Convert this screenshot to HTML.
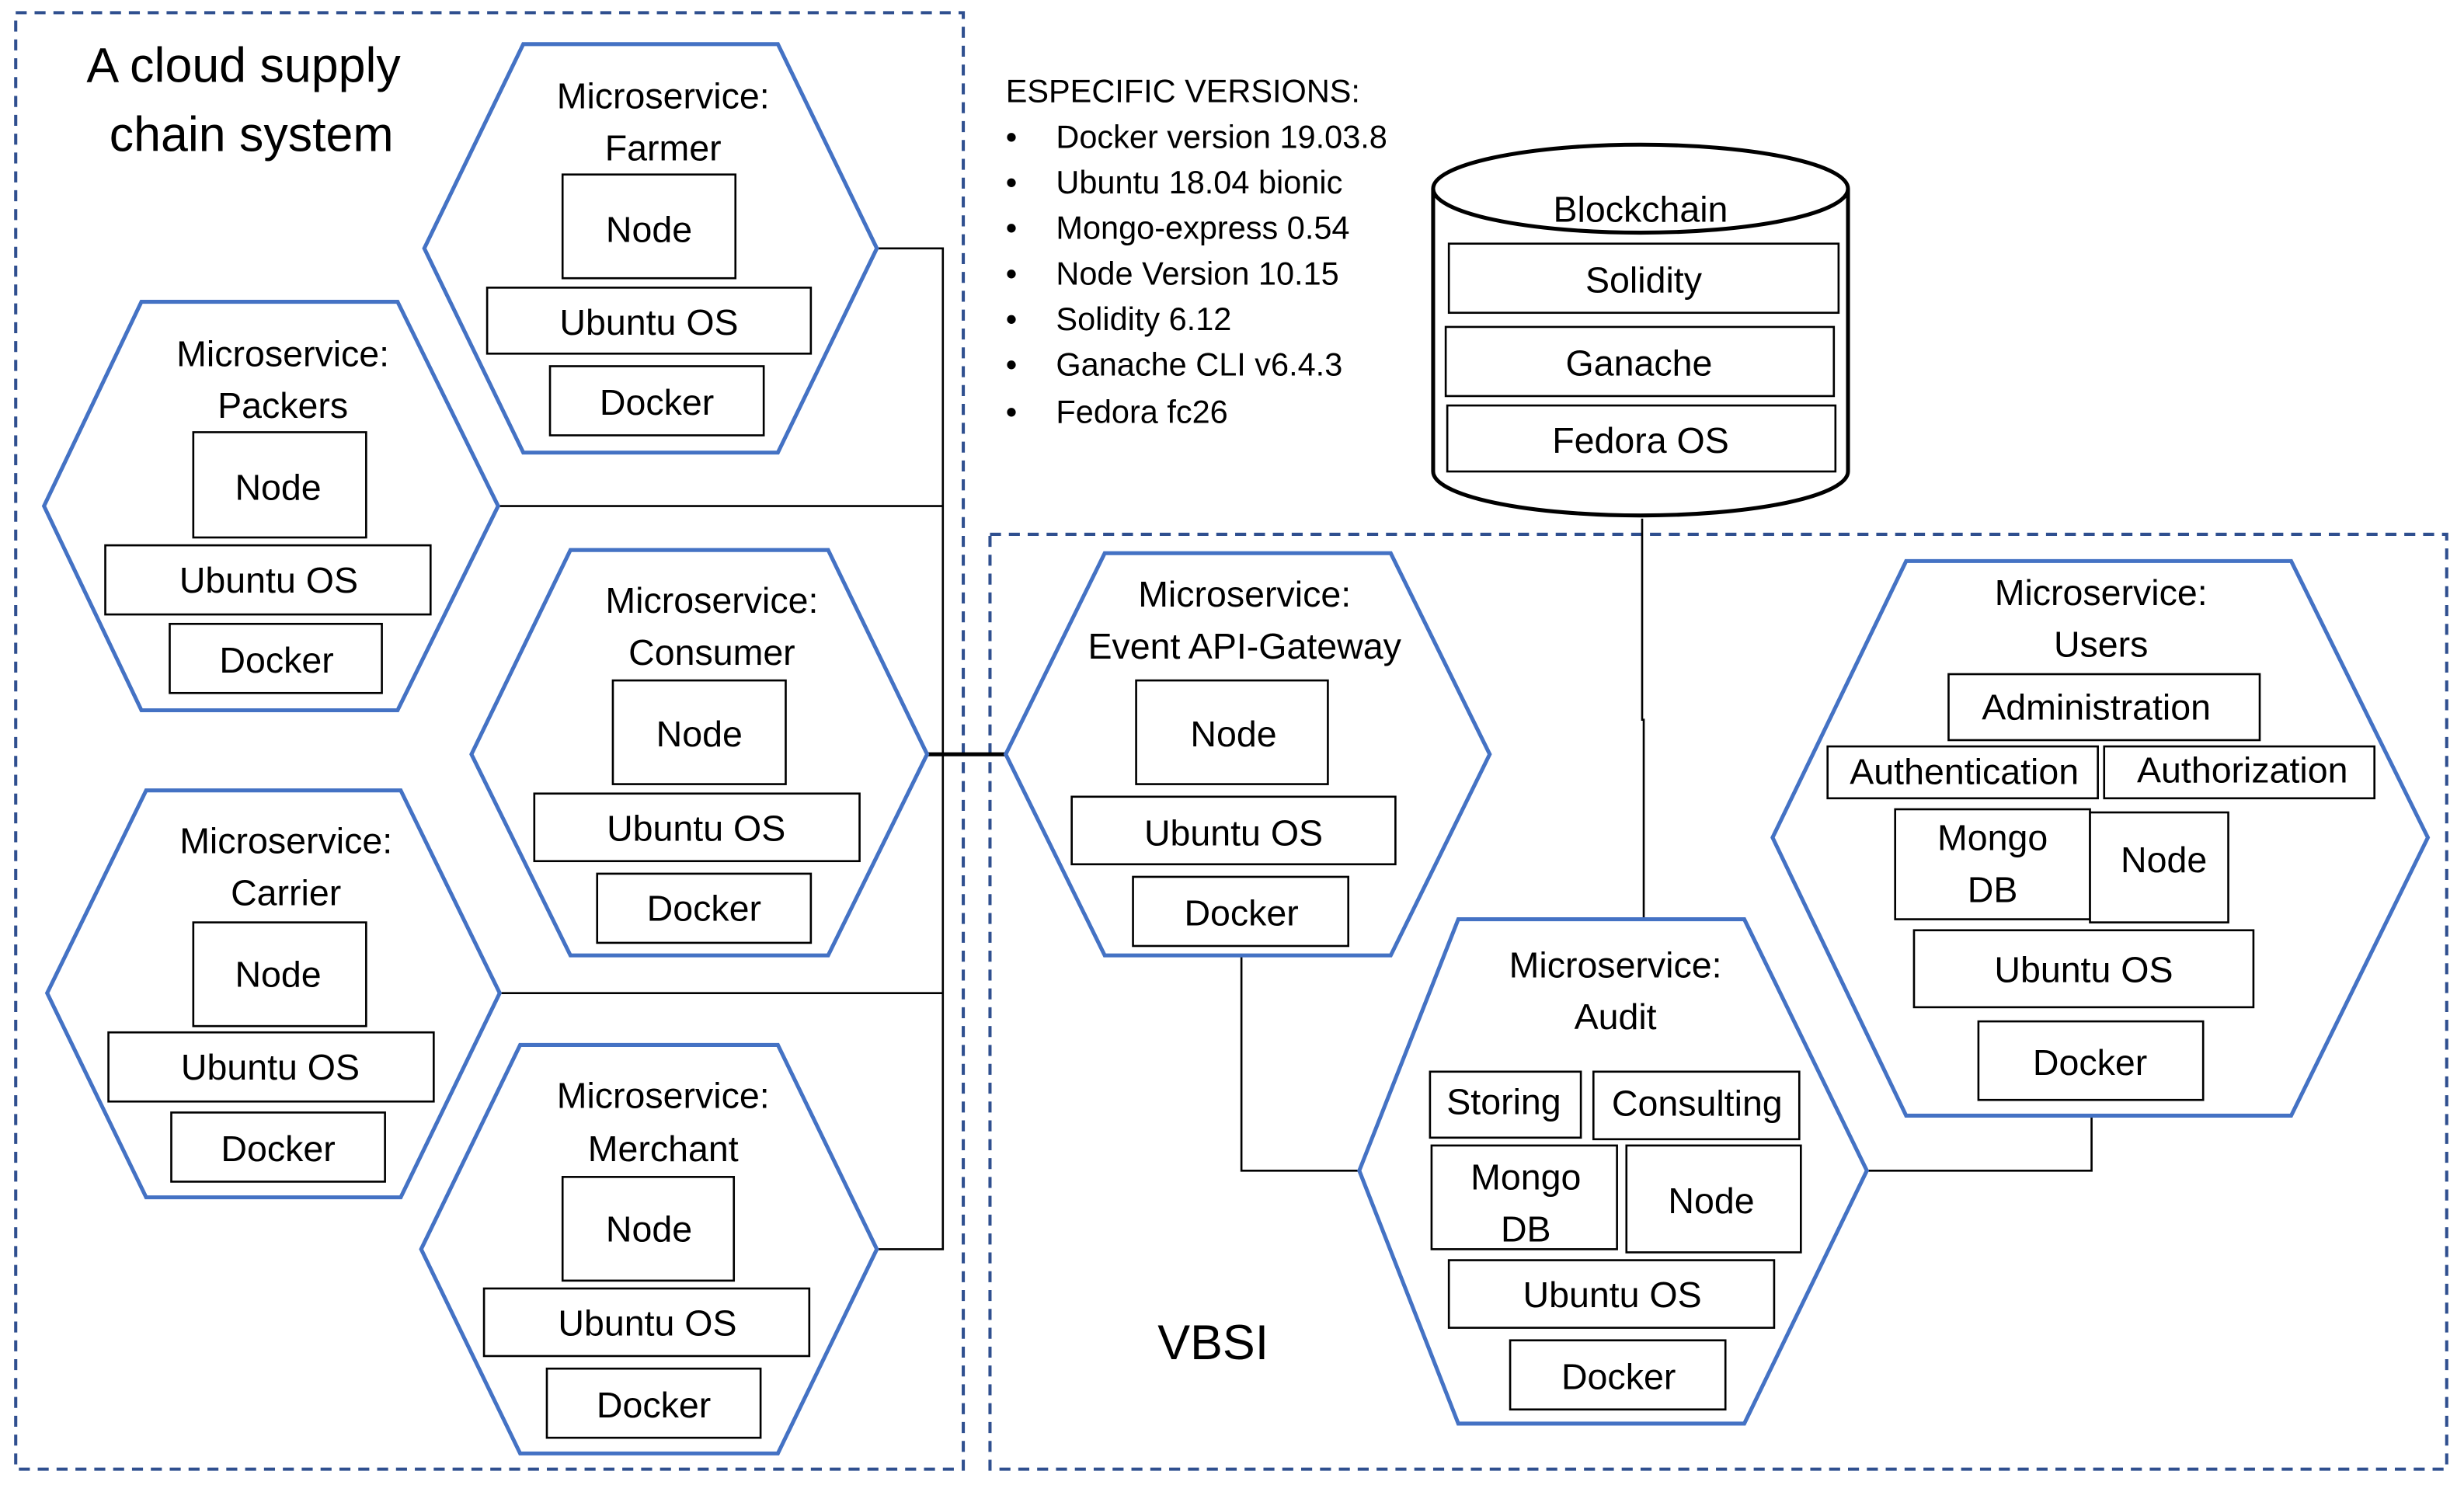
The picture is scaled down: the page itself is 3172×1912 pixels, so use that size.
<!DOCTYPE html>
<html><head><meta charset="utf-8"><style>
html,body{margin:0;padding:0;background:#fff;}
svg{display:block;}
text{font-family:"Liberation Sans",sans-serif;fill:#000;}
</style></head><body>
<svg width="3172" height="1912" viewBox="0 0 1568 945" xmlns="http://www.w3.org/2000/svg">
<g fill="none" stroke="#2f4f8f" stroke-width="2" stroke-dasharray="7,5">
<rect x="10" y="8" width="603" height="927"/>
<rect x="630" y="340" width="927" height="595"/>
</g>
<g fill="none" stroke="#000" stroke-width="1.3">
<polyline points="558,158 600,158 600,795 558,795"/>
<line x1="317" y1="322" x2="600" y2="322"/>
<line x1="318" y1="632" x2="600" y2="632"/>
<line x1="590" y1="480" x2="640" y2="480" stroke-width="2.5"/>
<polyline points="1045,330 1045,458 1046,458 1046,585"/>
<polyline points="790,602 790,745 865,745"/>
<polyline points="1188,745 1331,745 1331,700"/>
</g>
<g fill="#fff" stroke="#4472c4" stroke-width="2.5">
<polygon points="270,158 333,28 495,28 558,158 495,288 333,288"/>
<polygon points="28,322 90,192 253,192 317,322 253,452 90,452"/>
<polygon points="300,480 363,350 527,350 590,480 527,608 363,608"/>
<polygon points="30,632 93,503 255,503 318,632 255,762 93,762"/>
<polygon points="268,795 331,665 495,665 558,795 495,925 331,925"/>
<polygon points="640,480 703,352 885,352 948,480 885,608 703,608"/>
<polygon points="865,745 928,585 1110,585 1188,745 1110,906 928,906"/>
<polygon points="1128,533 1213,357 1458,357 1545,533 1458,710 1213,710"/>
</g>
<g fill="#fff" stroke="#000" stroke-width="2.5">
<path d="M912,120 L912,300 A132,28 0 0 0 1176,300 L1176,120"/>
<ellipse cx="1044" cy="120" rx="132" ry="28"/>
</g>
<g fill="#fff" stroke="#000" stroke-width="1.3">
<rect x="922" y="155" width="248" height="44"/>
<rect x="920" y="208" width="247" height="44"/>
<rect x="921" y="258" width="247" height="42"/>
<rect x="358" y="111" width="110" height="66"/><rect x="310" y="183" width="206" height="42"/><rect x="350" y="233" width="136" height="44"/>
<rect x="123" y="275" width="110" height="67"/><rect x="67" y="347" width="207" height="44"/><rect x="108" y="397" width="135" height="44"/>
<rect x="390" y="433" width="110" height="66"/><rect x="340" y="505" width="207" height="43"/><rect x="380" y="556" width="136" height="44"/>
<rect x="123" y="587" width="110" height="66"/><rect x="69" y="657" width="207" height="44"/><rect x="109" y="708" width="136" height="44"/>
<rect x="358" y="749" width="109" height="66"/><rect x="308" y="820" width="207" height="43"/><rect x="348" y="871" width="136" height="44"/>
<rect x="723" y="433" width="122" height="66"/><rect x="682" y="507" width="206" height="43"/><rect x="721" y="558" width="137" height="44"/>
<rect x="910" y="682" width="96" height="42"/><rect x="1014" y="682" width="131" height="43"/><rect x="911" y="729" width="118" height="66"/><rect x="1035" y="729" width="111" height="68"/><rect x="922" y="802" width="207" height="43"/><rect x="961" y="853" width="137" height="44"/>
<rect x="1240" y="429" width="198" height="42"/><rect x="1163" y="475" width="172" height="33"/><rect x="1339" y="475" width="172" height="33"/><rect x="1206" y="515" width="124" height="70"/><rect x="1330" y="517" width="88" height="70"/><rect x="1218" y="592" width="216" height="49"/><rect x="1259" y="650" width="143" height="50"/>
</g>
<g font-size="23" text-anchor="middle">
<text x="1044" y="141">Blockchain</text>
<text x="1046" y="186">Solidity</text><text x="1043" y="239">Ganache</text><text x="1044" y="288">Fedora OS</text>
<text x="422" y="69">Microservice:</text><text x="422" y="102">Farmer</text>
<text x="413" y="154">Node</text><text x="413" y="213">Ubuntu OS</text><text x="418" y="264">Docker</text>
<text x="180" y="233">Microservice:</text><text x="180" y="266">Packers</text>
<text x="177" y="318">Node</text><text x="171" y="377">Ubuntu OS</text><text x="176" y="428">Docker</text>
<text x="453" y="390">Microservice:</text><text x="453" y="423">Consumer</text>
<text x="445" y="475">Node</text><text x="443" y="535">Ubuntu OS</text><text x="448" y="586">Docker</text>
<text x="182" y="543">Microservice:</text><text x="182" y="576">Carrier</text>
<text x="177" y="628">Node</text><text x="172" y="687">Ubuntu OS</text><text x="177" y="739">Docker</text>
<text x="422" y="705">Microservice:</text><text x="422" y="739">Merchant</text>
<text x="413" y="790">Node</text><text x="412" y="850">Ubuntu OS</text><text x="416" y="902">Docker</text>
<text x="792" y="386">Microservice:</text><text x="792" y="419">Event API-Gateway</text>
<text x="785" y="475">Node</text><text x="785" y="538">Ubuntu OS</text><text x="790" y="589">Docker</text>
<text x="1028" y="622">Microservice:</text><text x="1028" y="655">Audit</text>
<text x="957" y="709">Storing</text><text x="1080" y="710">Consulting</text>
<text x="971" y="757">Mongo</text><text x="971" y="790">DB</text><text x="1089" y="772">Node</text>
<text x="1026" y="832">Ubuntu OS</text><text x="1030" y="884">Docker</text>
<text x="1337" y="385">Microservice:</text><text x="1337" y="418">Users</text>
<text x="1334" y="458">Administration</text><text x="1250" y="499">Authentication</text><text x="1427" y="498">Authorization</text>
<text x="1268" y="541">Mongo</text><text x="1268" y="574">DB</text><text x="1377" y="555">Node</text>
<text x="1326" y="625">Ubuntu OS</text><text x="1330" y="684">Docker</text>
</g>
<g font-size="31" text-anchor="middle">
<text x="155" y="52">A cloud supply</text>
<text x="160" y="96">chain system</text>
<text x="772" y="865">VBSI</text>
</g>
<g font-size="20.5">
<text x="640" y="65">ESPECIFIC VERSIONS:</text>
<text x="640" y="94">•</text><text x="672" y="94">Docker version 19.03.8</text>
<text x="640" y="123">•</text><text x="672" y="123">Ubuntu 18.04 bionic</text>
<text x="640" y="152">•</text><text x="672" y="152">Mongo-express 0.54</text>
<text x="640" y="181">•</text><text x="672" y="181">Node Version 10.15</text>
<text x="640" y="210">•</text><text x="672" y="210">Solidity 6.12</text>
<text x="640" y="239">•</text><text x="672" y="239">Ganache CLI v6.4.3</text>
<text x="640" y="269">•</text><text x="672" y="269">Fedora fc26</text>
</g>
</svg>
</body></html>
